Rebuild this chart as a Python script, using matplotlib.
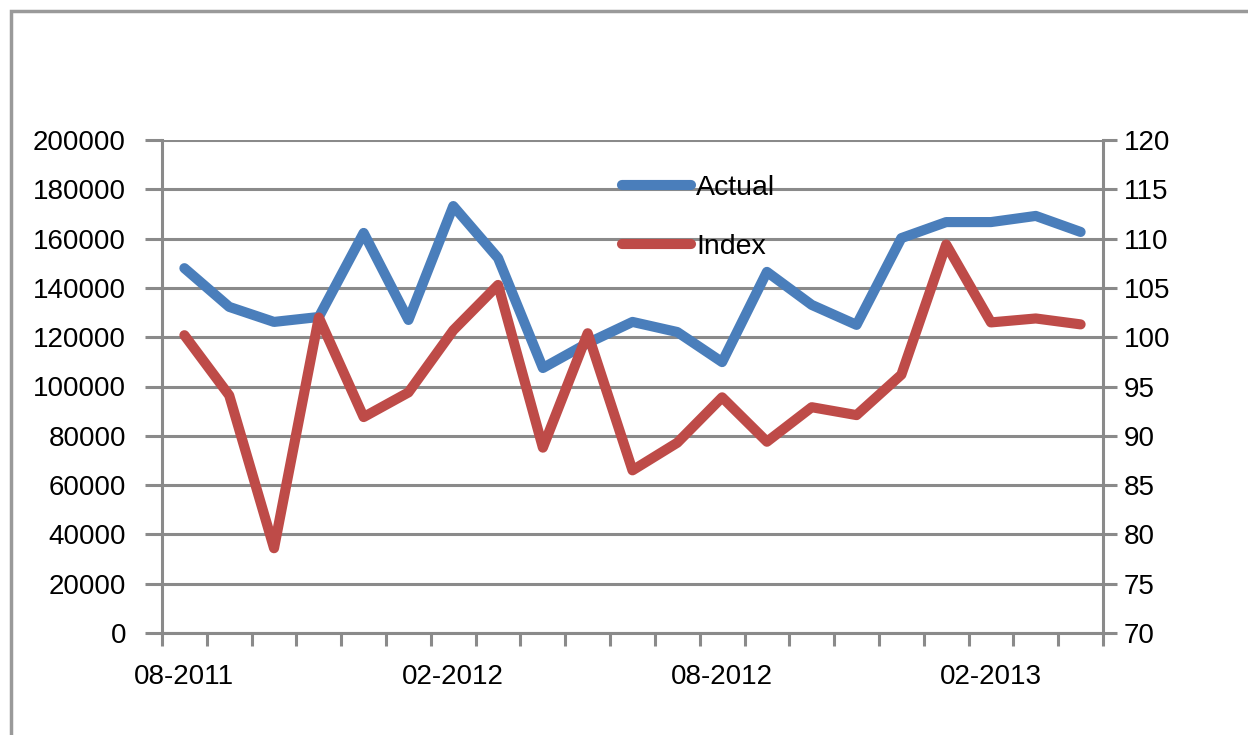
import matplotlib
matplotlib.use("Agg")
import matplotlib.pyplot as plt
from matplotlib.patches import Rectangle
from matplotlib.ticker import FixedLocator, NullFormatter

# --- data (monthly, 08-2011 .. 04-2013) ---
months = ["08-2011", "09-2011", "10-2011", "11-2011", "12-2011",
          "01-2012", "02-2012", "03-2012", "04-2012", "05-2012",
          "06-2012", "07-2012", "08-2012", "09-2012", "10-2012",
          "11-2012", "12-2012", "01-2013", "02-2013", "03-2013", "04-2013"]
actual = [148000, 132300, 126200, 128200, 162300, 127000, 173200, 152100,
          107500, 117600, 126200, 122100, 109900, 146500, 133100, 125000,
          160200, 166700, 166700, 169200, 162700]
index = [100.2, 94.1, 78.6, 102.0, 91.9, 94.4, 100.7, 105.3, 88.8, 100.4,
         86.5, 89.3, 93.9, 89.4, 92.9, 92.1, 96.2, 109.4, 101.5, 101.9, 101.3]
shown_labels = ["08-2011", "02-2012", "08-2012", "02-2013"]

BLUE = "#4A7EBB"
RED = "#BE4B48"
GRID = "#8a8a8a"

plt.rcParams["font.family"] = ["Liberation Sans", "DejaVu Sans"]
plt.rcParams["font.size"] = 20

fig = plt.figure(figsize=(12.48, 7.35), dpi=100)
ax = fig.add_axes([162 / 1248, 1 - 633 / 735, 941 / 1248, 493 / 735])
ax2 = ax.twinx()

x = list(range(len(months)))
l1, = ax.plot(x, actual, color=BLUE, lw=7.3, solid_joinstyle="round",
              solid_capstyle="round", label="Actual", zorder=3)
l2, = ax2.plot(x, index, color=RED, lw=7.3, solid_joinstyle="round",
               solid_capstyle="round", label="Index", zorder=3)

ax.set_xlim(-0.5, len(months) - 0.5)
ax.set_ylim(0, 200000)
ax.set_yticks(range(0, 200001, 20000))
ax2.set_ylim(70, 120)
ax2.set_yticks(range(70, 121, 5))

# x axis: labels on every 6th month, tick marks on category boundaries
ax.set_xticks([months.index(m) for m in shown_labels])
ax.set_xticklabels(shown_labels)
ax.xaxis.set_minor_locator(FixedLocator([i - 0.5 for i in range(len(months) + 1)]))
ax.xaxis.set_minor_formatter(NullFormatter())
ax.tick_params(axis="x", which="major", length=0, pad=22)
ax.tick_params(axis="x", which="minor", length=9, width=2.2, color=GRID)
ax.tick_params(axis="y", length=12, width=2.2, color=GRID, pad=14)
ax2.tick_params(axis="y", length=10, width=2.2, color=GRID, pad=5)

ax.grid(axis="y", color=GRID, lw=2.2)
ax.set_axisbelow(True)
for a in (ax, ax2):
    a.spines["top"].set_visible(False)
    for side in ("left", "right", "bottom"):
        a.spines[side].set_color(GRID)
        a.spines[side].set_linewidth(2.2)
ax.spines["right"].set_visible(False)
ax2.spines["left"].set_visible(False)
ax2.spines["bottom"].set_visible(False)

ax2.legend(handles=[l1, l2], loc="upper left",
           bbox_to_anchor=(0.477, 0.953), frameon=False,
           handlelength=2.4, handletextpad=0.2, labelspacing=1.18,
           borderaxespad=0, fontsize=20.5)

# outer frame of the chart area
fig.patches.append(Rectangle((11 / 1248, -0.05), 1.2, 1.05 - 11 / 735,
                             transform=fig.transFigure, fill=False,
                             edgecolor="#9a9a9a", lw=2.5))

fig.savefig("out.png", dpi=100)
